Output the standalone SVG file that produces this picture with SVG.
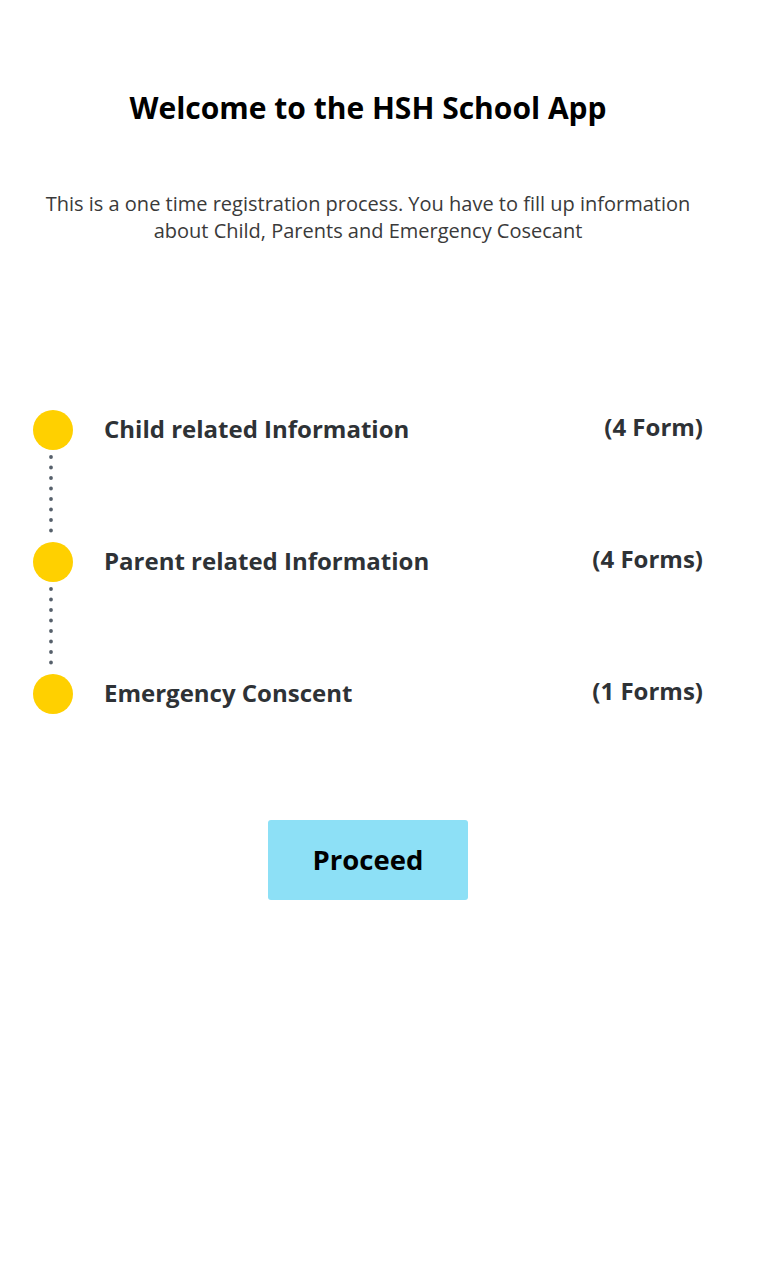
<svg xmlns="http://www.w3.org/2000/svg" width="769" height="1272" viewBox="0 0 769 1272">
<style>
.title{font-family:"Open Sans","Noto Sans",sans-serif;font-weight:700;font-size:30px;fill:#000;text-anchor:middle}
.sub{font-family:"Open Sans","Noto Sans",sans-serif;font-size:20px;fill:#3a3a3a;text-anchor:middle}
.lbl{font-family:"Open Sans","Noto Sans",sans-serif;font-weight:700;font-size:24px;fill:#2e3236}
.cnt{font-family:"Open Sans","Noto Sans",sans-serif;font-weight:700;font-size:24px;fill:#2e3236;text-anchor:end}
.dot{fill:#ffd000}
.conn{stroke:#56606b;stroke-width:3.8;stroke-linecap:round;stroke-dasharray:0 10.5;fill:none}
.btn{fill:#8de0f6}
.btnt{font-family:"Open Sans","Noto Sans",sans-serif;font-weight:700;font-size:27.5px;fill:#000;text-anchor:middle}
</style>
<rect width="769" height="1272" fill="#fff"/>
<g id="header">
<text class="title" x="368" y="119">Welcome to the HSH School App</text>
<text class="sub" x="368" y="211">This is a one time registration process. You have to fill up information</text>
<text class="sub" x="368" y="238">about Child, Parents and Emergency Cosecant</text>
</g>
<g id="connectors">
<line class="conn" x1="51" y1="457" x2="51" y2="531"/>
<line class="conn" x1="51" y1="589" x2="51" y2="663"/>
</g>
<g id="step-child">
<circle class="dot" cx="53" cy="430" r="20"/>
<text class="lbl" x="104" y="438">Child related Information</text>
<text class="cnt" x="703" y="436">(4 Form)</text>
</g>
<g id="step-parent">
<circle class="dot" cx="53" cy="562" r="20"/>
<text class="lbl" x="104" y="570">Parent related Information</text>
<text class="cnt" x="703" y="568">(4 Forms)</text>
</g>
<g id="step-emergency">
<circle class="dot" cx="53" cy="694" r="20"/>
<text class="lbl" x="104" y="702">Emergency Conscent</text>
<text class="cnt" x="703" y="700">(1 Forms)</text>
</g>
<g id="proceed">
<rect class="btn" x="268" y="820" width="200" height="80" rx="3"/>
<text class="btnt" x="368" y="870">Proceed</text>
</g>
</svg>
